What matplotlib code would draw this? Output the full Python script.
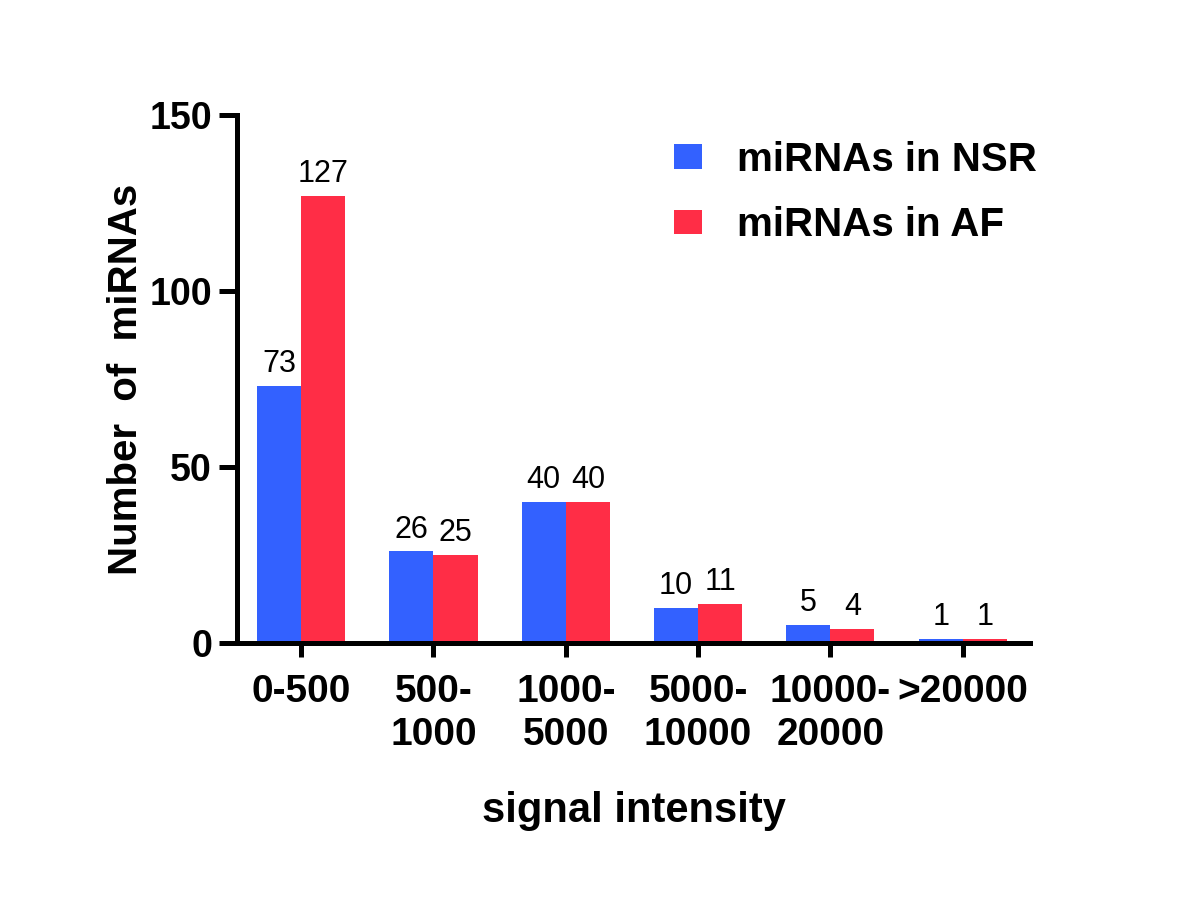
import numpy as np
import matplotlib.pyplot as plt

plt.rcParams['font.family'] = ['Liberation Sans', 'DejaVu Sans']

categories = ['0-500', '500-\n1000', '1000-\n5000', '5000-\n10000', '10000-\n20000', '>20000']
nsr = [73, 26, 40, 10, 5, 1]
af = [127, 25, 40, 11, 4, 1]

blue = '#3361FF'
red = '#FF2D46'
lw = 3.6

fig = plt.figure(figsize=(12, 9.08), dpi=100)
ax = fig.add_axes([0.1975, 0.2919, 0.6608, 0.5814])

x = np.arange(len(categories))
w = 0.333
b1 = ax.bar(x - w / 2, nsr, w, color=blue, label='miRNAs in NSR')
b2 = ax.bar(x + w / 2, af, w, color=red, label='miRNAs in AF')
ax.bar_label(b1, padding=5, fontsize=22)
ax.bar_label(b2, padding=5, fontsize=22)

ax.set_xlim(-0.485, 5.508)
ax.set_ylim(0, 150)
ax.set_yticks([0, 50, 100, 150])
ax.set_xticks(x)
ax.set_xticklabels(categories, linespacing=1.25)

for s in ['top', 'right']:
    ax.spines[s].set_visible(False)
for s in ['left', 'bottom']:
    ax.spines[s].set_linewidth(lw)

ax.tick_params(axis='y', length=13, width=lw, pad=5, labelsize=27)
ax.tick_params(axis='x', length=10, width=lw, pad=12, labelsize=28)
for t in ax.get_xticklabels() + ax.get_yticklabels():
    t.set_fontweight('bold')

ax.set_ylabel('Number  of  miRNAs', fontsize=29, fontweight='bold', labelpad=3)
ax.set_xlabel('signal intensity', fontsize=30, fontweight='bold', labelpad=28)

ax.legend(loc='upper left', bbox_to_anchor=(0.505, 1.02), frameon=False,
          prop={'size': 29, 'weight': 'bold'}, handlelength=0.7, handleheight=0.55,
          handletextpad=0.87, labelspacing=0.68)

fig.savefig('out.png', dpi=100)
